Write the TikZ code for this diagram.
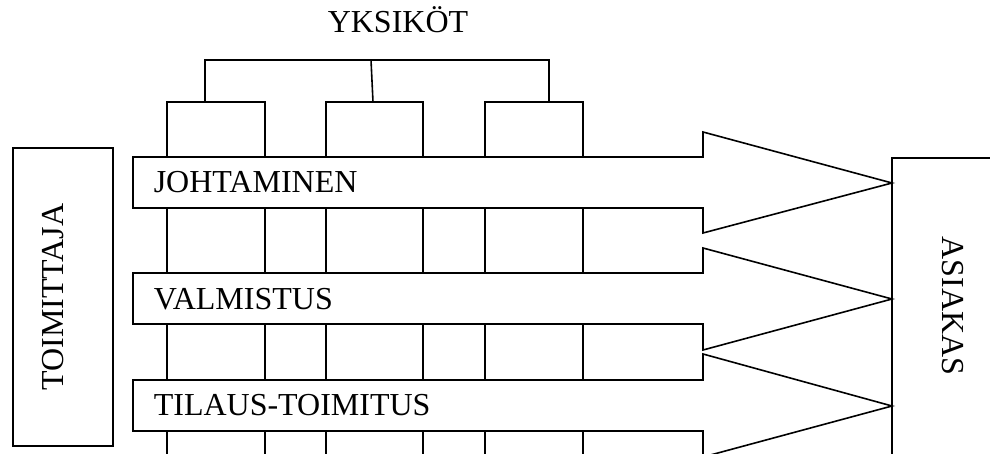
\documentclass[tikz,border=0pt]{standalone}
\usepackage{fontspec}
\setmainfont{Liberation Serif}
\begin{document}
\begin{tikzpicture}[x=1pt,y=-1pt,line width=1.6pt,line join=miter,
  lbl/.style={font=\fontsize{32}{36}\selectfont,inner sep=0pt},
  arr/.style={draw,fill=white},
  colbox/.style={draw}]
\useasboundingbox (0,0) rectangle (990,454);
\clip (0,0) rectangle (990,454);
% title
\node[lbl,anchor=base] (yks) at (398,33) {YKSIKÖT};
% bracket
\coordinate (bl) at (205,102);
\coordinate (blt) at (205,60);
\coordinate (brt) at (549,60);
\coordinate (br) at (549,102);
\coordinate (bmt) at (371,60);
\coordinate (bm) at (373,102);
\draw (bl) -- (blt) -- (brt) -- (br);
\draw (bmt) -- (bm);
% unit columns
\foreach \a/\b in {167/265,326/423,485/583}{
  \draw[colbox] (\a,470) -- (\a,102) -- (\b,102) -- (\b,470);
}
% process arrows
\draw[arr] (133,157) -- (703,157) -- (703,132) -- (892,183) -- (703,233) -- (703,208) -- (133,208) -- cycle;
\draw[arr] (133,273) -- (703,273) -- (703,248) -- (892,299) -- (703,350) -- (703,324) -- (133,324) -- cycle;
\draw[arr] (133,380) -- (703,380) -- (703,354) -- (892,406) -- (703,457) -- (703,431) -- (133,431) -- cycle;
\node[lbl,anchor=base west] (joh) at (153,193) {JOHTAMINEN};
\node[lbl,anchor=base west] (val) at (153,309) {VALMISTUS};
\node[lbl,anchor=base west] (til) at (153,415) {TILAUS-TOIMITUS};
% supplier and customer
\draw (13,148) rectangle (113,446);
\node[lbl,anchor=base,rotate=90] (toim) at (63,297) {TOIMITTAJA};
\draw (892,158) rectangle (1000,470);
\node[lbl,anchor=base,rotate=-90] (asi) at (942,306) {ASIAKAS};
\end{tikzpicture}
\end{document}
